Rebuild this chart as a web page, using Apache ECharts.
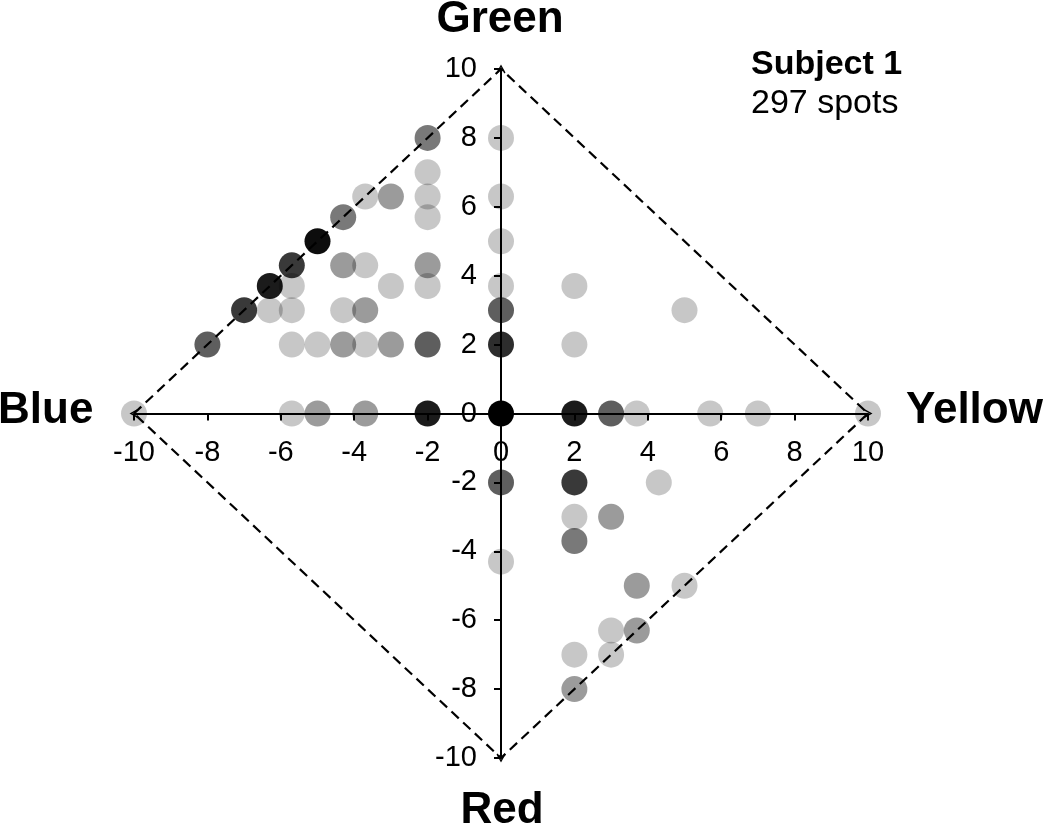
<!DOCTYPE html>
<html>
<head>
<meta charset="utf-8">
<style>
html, body { margin: 0; padding: 0; background: #fff; }
#main { width: 1050px; height: 829px; }
</style>
<script src="https://cdn.jsdelivr.net/npm/echarts@6/dist/echarts.min.js"></script>
</head>
<body>
<div id="main"></div>
<script>
// spots: position + how many spots sit on the same place
var spotX = [-2, -2, -2, -2, -3, -3.7, -4.3, -5, -5.7, -4.3, -3.7, -2, -6.3, -5.7, -3, -2,
    -7, -6.3, -5.7, -4.3, -3.7, -8, -5.7, -5, -4.3, -3.7, -3, -2,
    -10, -5.7, -5, -3.7, -2, 0, 0, 0, 0, 0, 0, 0,
    2, 2, 5, 2, 3, 3.7, 5.7, 7, 10,
    0, 2, 4.3, 2, 3, 2, 0, 3.7, 5, 3, 3.7, 2, 3, 2];
var spotY = [8, 7, 6.3, 5.7, 6.3, 6.3, 5.7, 5, 4.3, 4.3, 4.3, 4.3, 3.7, 3.7, 3.7, 3.7,
    3, 3, 3, 3, 3, 2, 2, 2, 2, 2, 2, 2,
    0, 0, 0, 0, 0, 0, 8, 6.3, 5, 3.7, 3, 2,
    3.7, 2, 3, 0, 0, 0, 0, 0, 0,
    -2, -2, -2, -3, -3, -3.7, -4.3, -5, -5, -6.3, -6.3, -7, -7, -8];
var spotCount = [3, 1, 1, 1, 2, 1, 3, 12, 6, 2, 1, 2, 9, 1, 1, 1,
    6, 1, 1, 1, 2, 4, 1, 1, 2, 1, 2, 4,
    1, 1, 2, 2, 9, 146, 1, 1, 1, 1, 4, 7,
    1, 1, 1, 9, 4, 1, 1, 1, 1,
    4, 6, 1, 1, 2, 3, 1, 2, 1, 1, 2, 1, 1, 2];

// dashed diamond corners
var diamondX = [-10, 0, 10, 0, -10];
var diamondY = [0, 10, 0, -10, 0];

var axisMin = -10, axisMax = 10, axisStep = 2;
var subjectName = 'Subject 1';
var spotTotal = 297;

(function () {
    var myChart = echarts.init(document.getElementById('main'));
    var font = "'Liberation Sans', Arial, sans-serif";
    // open chevron for the axis ends
    var chevron = 'path://M5,0 L10,9 L8.6,10 L5,3 L1.4,10 L0,9 Z';

    var gridLeft = 134, gridRight = 182, gridTop = 69, gridBottom = 71;
    var gridW = 1050 - gridLeft - gridRight;
    var gridH = 829 - gridTop - gridBottom;

    var spots = [];
    for (var i = 0; i < spotX.length; i++) {
        var a = 1 - Math.pow(0.78, spotCount[i]);
        spots.push({
            value: [spotX[i], spotY[i], spotCount[i]],
            itemStyle: { color: 'rgba(0,0,0,' + a.toFixed(3) + ')' }
        });
    }
    var diamond = diamondX.map(function (x, i) { return [x, diamondY[i]]; });

    function makeAxis(offset, margin) {
        return {
            type: 'value',
            min: axisMin,
            max: axisMax,
            interval: axisStep,
            z: 10,
            offset: offset, // push the axis in to the middle of the grid
            splitLine: { show: false },
            axisLine: {
                onZero: false,
                symbol: [chevron, chevron],
                symbolSize: [13, 9],
                lineStyle: { color: '#000', width: 2 }
            },
            axisTick: { show: true, length: 7, lineStyle: { color: '#000', width: 2 } },
            axisLabel: { color: '#000', fontSize: 29, fontFamily: font, margin: margin }
        };
    }

    var option = {
        animation: false,
        backgroundColor: '#fff',
        grid: {
            left: gridLeft,
            right: gridRight,
            top: gridTop,
            bottom: gridBottom,
            containLabel: false,
            outerBoundsMode: 'none'
        },
        xAxis: makeAxis(-gridH / 2, 25),
        yAxis: makeAxis(-gridW / 2, 24),
        series: [
            {
                type: 'scatter',
                symbolSize: 26,
                z: 2,
                silent: true,
                itemStyle: { opacity: 1 },
                data: spots
            },
            {
                type: 'line',
                symbol: 'none',
                z: 3,
                silent: true,
                lineStyle: { color: '#000', width: 2.2, type: [10, 6] },
                data: diamond
            }
        ],
        graphic: [
            { type: 'text', x: 500, y: 20, style: { text: 'Green', font: 'bold 44px ' + font, fill: '#000', align: 'center', verticalAlign: 'middle' } },
            { type: 'text', x: -2, y: 411, style: { text: 'Blue', font: 'bold 44px ' + font, fill: '#000', align: 'left', verticalAlign: 'middle' } },
            { type: 'text', x: 906, y: 411, style: { text: 'Yellow', font: 'bold 44px ' + font, fill: '#000', align: 'left', verticalAlign: 'middle' } },
            { type: 'text', x: 502, y: 811, style: { text: 'Red', font: 'bold 44px ' + font, fill: '#000', align: 'center', verticalAlign: 'middle' } },
            { type: 'text', x: 751, y: 65, style: { text: subjectName, font: 'bold 34px ' + font, fill: '#000', align: 'left', verticalAlign: 'middle' } },
            { type: 'text', x: 751, y: 104, style: { text: spotTotal + ' spots', font: '34px ' + font, fill: '#000', align: 'left', verticalAlign: 'middle' } }
        ]
    };

    myChart.setOption(option);
    window.addEventListener('resize', function () {
        myChart.resize();
    });
})();
</script>
</body>
</html>
